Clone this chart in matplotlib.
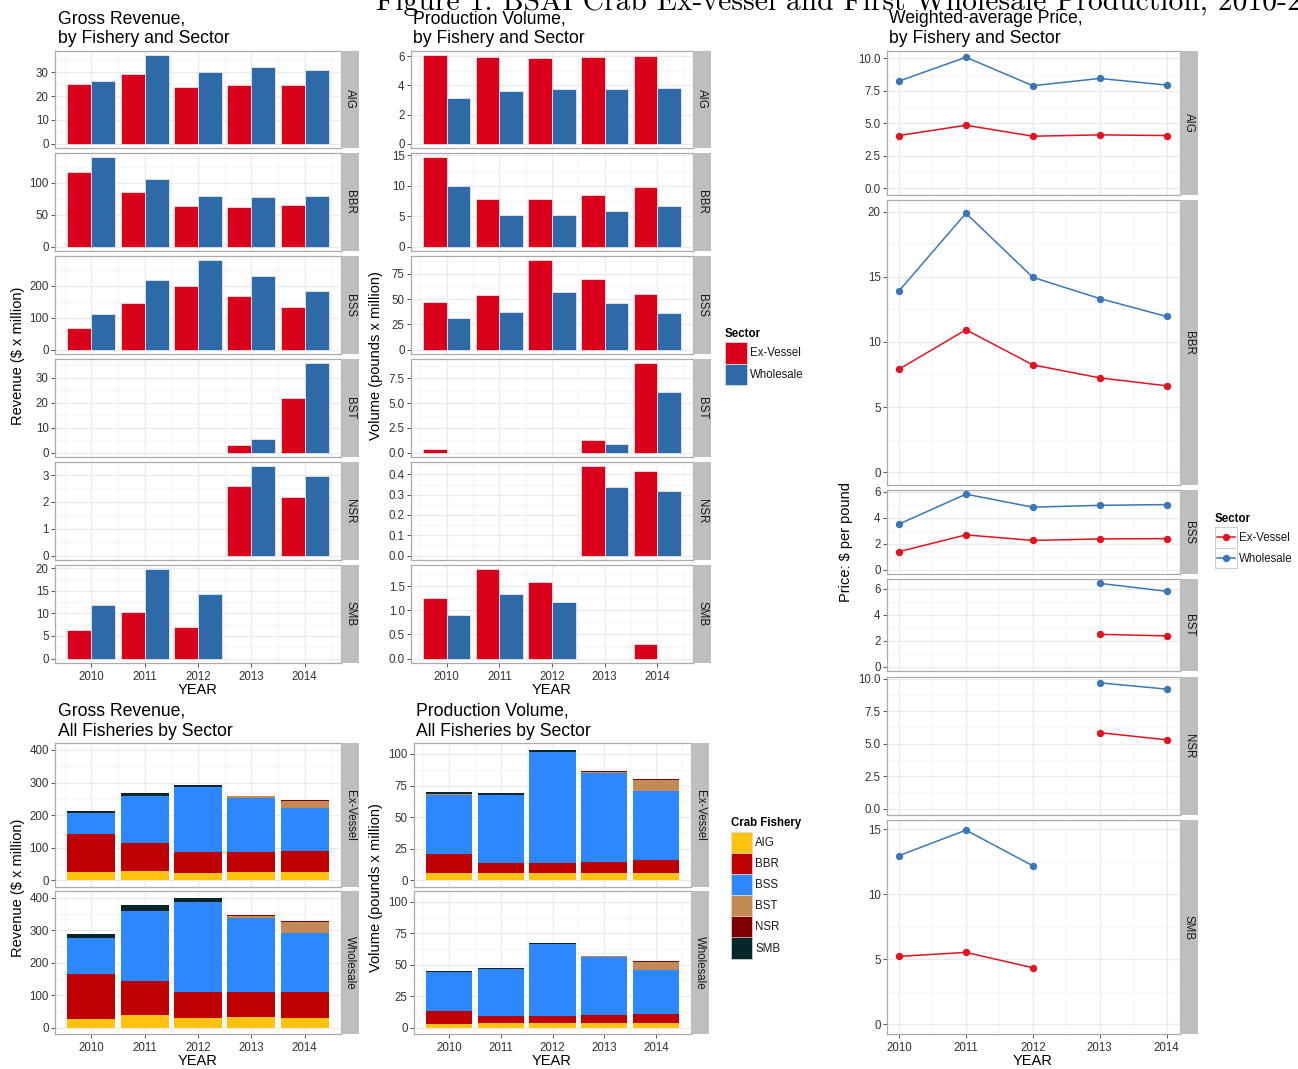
import numpy as np
import matplotlib
matplotlib.use("Agg")
import matplotlib.pyplot as plt
from matplotlib.patches import Rectangle
from matplotlib.lines import Line2D

nan = np.nan

years = [2010, 2011, 2012, 2013, 2014]
fisheries = ['AIG', 'BBR', 'BSS', 'BST', 'NSR', 'SMB']
sectors = ['Ex-Vessel', 'Wholesale']

# gross revenue, $ million (one row per fishery)
revenue_exvessel = [
    [25.0, 29.2, 24.0, 24.7, 24.7],
    [116.7, 85.4, 64.1, 62.5, 65.6],
    [66.0, 144.3, 198.0, 167.0, 132.0],
    [nan, nan, nan, 3.2, 21.7],
    [nan, nan, nan, 2.60, 2.18],
    [6.4, 10.2, 6.9, nan, nan],
]
revenue_wholesale = [
    [26.2, 37.2, 30.0, 32.1, 30.8],
    [139.6, 105.2, 78.6, 77.1, 79.2],
    [110.3, 216.5, 278.4, 228.9, 181.4],
    [nan, nan, nan, 5.5, 35.7],
    [nan, nan, nan, 3.32, 2.95],
    [11.8, 19.7, 14.2, nan, nan],
]

# production volume, million pounds
volume_exvessel = [
    [6.09, 5.98, 5.89, 5.93, 6.05],
    [14.67, 7.83, 7.83, 8.48, 9.80],
    [47.2, 53.8, 88.2, 70.2, 54.8],
    [0.37, nan, nan, 1.22, 9.02],
    [nan, nan, nan, 0.439, 0.418],
    [1.25, 1.85, 1.59, nan, 0.30],
]
volume_wholesale = [
    [3.16, 3.61, 3.73, 3.77, 3.84],
    [10.0, 5.25, 5.25, 5.80, 6.62],
    [31.1, 37.4, 57.4, 46.2, 35.7],
    [nan, nan, nan, 0.84, 6.15],
    [nan, nan, nan, 0.338, 0.318],
    [0.91, 1.33, 1.17, nan, nan],
]

# weighted-average price, $ per pound
price_exvessel = [
    [4.06, 4.85, 4.01, 4.11, 4.06],
    [7.91, 10.94, 8.24, 7.24, 6.63],
    [1.41, 2.70, 2.27, 2.39, 2.41],
    [nan, nan, nan, 2.51, 2.39],
    [nan, nan, nan, 5.85, 5.30],
    [5.22, 5.53, 4.35, nan, nan],
]
price_wholesale = [
    [8.25, 10.08, 7.89, 8.45, 7.94],
    [13.93, 19.90, 14.97, 13.34, 11.96],
    [3.53, 5.83, 4.83, 4.97, 5.03],
    [nan, nan, nan, 6.43, 5.82],
    [nan, nan, nan, 9.68, 9.20],
    [12.97, 14.93, 12.19, nan, nan],
]

rev_ticks = [[0, 10, 20, 30], [0, 50, 100], [0, 100, 200], [0, 10, 20, 30], [0, 1, 2, 3], [0, 5, 10, 15, 20]]
vol_ticks = [[0, 2, 4, 6], [0, 5, 10, 15], [0, 25, 50, 75], [0, 2.5, 5, 7.5], [0, .1, .2, .3, .4], [0, .5, 1, 1.5]]
price_ticks = [[0, 2.5, 5, 7.5, 10], [0, 5, 10, 15, 20], [0, 2, 4, 6], [0, 2, 4, 6], [0, 2.5, 5, 7.5, 10], [0, 5, 10, 15]]
rev_total_ticks = [0, 100, 200, 300, 400]
vol_total_ticks = [0, 25, 50, 75, 100]

sector_colors = ['#DA001B', '#2E6AA8']
line_colors = ['#E3121F', '#3A77B5']
fishery_colors = ['#FFC20E', '#BF0000', '#2D87FF', '#C38A55', '#7F0000', '#06272A']

W, H = 1298, 1069
plt.rcParams['font.family'] = 'Liberation Sans'

fig = plt.figure(figsize=(W / 100, H / 100), dpi=100)


def box(x0, y0, x1, y1):
    return [x0 / W, 1 - y1 / H, (x1 - x0) / W, (y1 - y0) / H]


def fig_text(x, y, s, **kw):
    fig.text(x / W, 1 - y / H, s, **kw)


def style(ax, ticks, ylim, xlim, xmajor, show_x):
    fmt = '{:.1f}' if any(t % 1 for t in ticks) else '{:g}'
    ax.set_yticks(ticks)
    ax.set_yticklabels([fmt.format(t) for t in ticks])
    step = ticks[1] - ticks[0]
    minor = [v for v in np.arange(ticks[0] - step / 2, ylim[1], step) if ylim[0] < v < ylim[1]]
    ax.set_yticks(minor, minor=True)
    ax.set_xticks(xmajor)
    xminor = [x + 0.5 for x in [xmajor[0] - 1] + list(xmajor)]
    ax.set_xticks([x for x in xminor if xlim[0] < x < xlim[1]], minor=True)
    ax.set_xlim(xlim)
    ax.set_ylim(ylim)
    ax.grid(True, which='major', color='#EBEBEB', lw=0.9, zorder=0)
    ax.grid(True, which='minor', color='#F6F6F6', lw=0.8, zorder=0)
    ax.set_axisbelow(True)
    for sp in ax.spines.values():
        sp.set_color('#ABABAB')
        sp.set_linewidth(0.9)
    ax.tick_params(which='minor', length=0)
    ax.tick_params(which='major', length=3, width=0.7, color='#555555',
                   labelsize=8.3, labelcolor='#333333', pad=1.5)
    ax.tick_params(axis='x', pad=3)
    if not show_x:
        ax.tick_params(axis='x', length=0, labelbottom=False)


def strip(x0, y0, x1, y1, label):
    s = fig.add_axes(box(x0, y0, x1, y1))
    s.set_facecolor('#BEBEBE')
    s.set_xticks([])
    s.set_yticks([])
    for sp in s.spines.values():
        sp.set_visible(False)
    s.text(0.5, 0.5, label, rotation=-90, ha='center', va='center',
           fontsize=8.3, color='#1A1A1A', transform=s.transAxes)


def dodge_panels(x0, x1, rows, ex, wh, tick_sets):
    for i, (y0, y1) in enumerate(rows):
        ax = fig.add_axes(box(x0, y0, x1, y1))
        a = np.array(ex[i], dtype=float)
        b = np.array(wh[i], dtype=float)
        top = np.nanmax(np.concatenate([a, b]))
        yrs = np.array(years)
        ax.bar(yrs - 0.225, a, width=0.45, color=sector_colors[0], edgecolor='#F2F2F2', lw=0.5, zorder=2)
        ax.bar(yrs + 0.225, b, width=0.45, color=sector_colors[1], edgecolor='#F2F2F2', lw=0.5, zorder=2)
        style(ax, tick_sets[i], (-0.05 * top, 1.05 * top), (2009.32, 2014.68), years, i == len(rows) - 1)
        strip(x1, y0, x1 + 18, y1, fisheries[i])


def stacked_panels(x0, x1, rows, data_by_sector, ticks):
    tots = [np.nansum(np.array(d, dtype=float), axis=0) for d in data_by_sector]
    top = max(t.max() for t in tots)
    for k, (y0, y1) in enumerate(rows):
        ax = fig.add_axes(box(x0, y0, x1, y1))
        bottom = np.zeros(len(years))
        for i, f in enumerate(fisheries):
            v = np.nan_to_num(np.array(data_by_sector[k][i], dtype=float))
            ax.bar(years, v, width=0.9, bottom=bottom, color=fishery_colors[i], lw=0, zorder=2)
            bottom += v
        style(ax, ticks, (-0.05 * top, 1.05 * top), (2009.32, 2014.68), years, k == len(rows) - 1)
        strip(x1, y0, x1 + 18, y1, sectors[k])


# ---- Gross revenue by fishery ----
rows = [(50.7, 148), (153, 251), (256, 354), (359, 457), (462, 560), (565, 663)]
dodge_panels(55, 341, rows, revenue_exvessel, revenue_wholesale, rev_ticks)
# ---- Production volume by fishery ----
dodge_panels(411, 693, rows, volume_exvessel, volume_wholesale, vol_ticks)

# ---- Price panels, heights proportional to y range ----
tops = [np.nanmax(np.concatenate([price_exvessel[i], price_wholesale[i]])) * 1.1 for i in range(6)]
gap = 5.4
avail = (1034 - 50.7) - gap * 5
y = 50.7
for i, f in enumerate(fisheries):
    h = avail * tops[i] / sum(tops)
    ax = fig.add_axes(box(887, y, 1180, y + h))
    for s in range(2):
        vals = price_exvessel[i] if s == 0 else price_wholesale[i]
        ax.plot(years, vals, color=line_colors[s], lw=1.1, marker='o', ms=4.3, zorder=3)
    m = tops[i] / 1.1
    style(ax, price_ticks[i], (-0.05 * m, 1.05 * m), (2009.82, 2014.2), years, i == 5)
    strip(1180, y, 1198, y + h, f)
    y += h + gap

# ---- Stacked totals ----
rows2 = [(743, 887), (891, 1034)]
stacked_panels(55, 341, rows2, [revenue_exvessel, revenue_wholesale], rev_total_ticks)
stacked_panels(414, 691, rows2, [volume_exvessel, volume_wholesale], vol_total_ticks)

# ---- titles and axis labels ----
fig_text(376, 10, 'Figure 1: BSAI Crab Ex-vessel and First Wholesale Production, 2010-2014',
         fontsize=21.3, family='cmr10', va='baseline', ha='left')
tkw = dict(fontsize=12.7, va='top', ha='left', linespacing=1.2, color='black')
fig_text(58, 10, 'Gross Revenue,\nby Fishery and Sector', **tkw)
fig_text(413, 10, 'Production Volume,\nby Fishery and Sector', **tkw)
fig_text(889, 10, 'Weighted-average Price,\nby Fishery and Sector', **tkw)
fig_text(58, 703, 'Gross Revenue,\nAll Fisheries by Sector', **tkw)
fig_text(416, 703, 'Production Volume,\nAll Fisheries by Sector', **tkw)

lkw = dict(fontsize=10.5, ha='center', va='center')
fig_text(198, 690, 'YEAR', **lkw)
fig_text(552, 690, 'YEAR', **lkw)
fig_text(1033, 1061, 'YEAR', **lkw)
fig_text(198, 1061, 'YEAR', **lkw)
fig_text(552, 1061, 'YEAR', **lkw)
fig_text(18, 356, 'Revenue ($ x million)', rotation=90, **lkw)
fig_text(376, 356, 'Volume (pounds x million)', rotation=90, **lkw)
fig_text(846, 542, 'Price: $ per pound', rotation=90, **lkw)
fig_text(18, 888, 'Revenue ($ x million)', rotation=90, **lkw)
fig_text(376, 888, 'Volume (pounds x million)', rotation=90, **lkw)


# ---- legends ----
def rect(x0, y0, x1, y1, fc, ec='none', lw=0):
    fig.add_artist(Rectangle((x0 / W, 1 - y1 / H), (x1 - x0) / W, (y1 - y0) / H,
                             transform=fig.transFigure, facecolor=fc, edgecolor=ec, lw=lw))


fig_text(725, 334, 'Sector', fontsize=8.3, fontweight='bold', va='center')
for s in range(2):
    y0 = 342 + 21.5 * s
    rect(725, y0, 747, y0 + 21.5, sector_colors[s], '#E6E6E6', 0.5)
    fig_text(750, y0 + 11, sectors[s], fontsize=8.3, va='center', color='#1A1A1A')

fig_text(1215, 519, 'Sector', fontsize=8.3, fontweight='bold', va='center')
for s in range(2):
    y0 = 527 + 20.5 * s
    rect(1215, y0, 1237, y0 + 20.5, 'white', '#CFCFCF', 0.8)
    yc = 1 - (y0 + 10.25) / H
    fig.add_artist(Line2D([1217 / W, 1235 / W], [yc, yc], color=line_colors[s], lw=1.1,
                          transform=fig.transFigure))
    fig.add_artist(Line2D([1226 / W], [yc], color=line_colors[s], marker='o', ms=4.3,
                          transform=fig.transFigure))
    fig_text(1239, y0 + 11, sectors[s], fontsize=8.3, va='center', color='#1A1A1A')

fig_text(731, 823, 'Crab Fishery', fontsize=8.3, fontweight='bold', va='center')
for i, f in enumerate(fisheries):
    y0 = 832 + 21.1 * i
    rect(731, y0, 752, y0 + 21.1, fishery_colors[i], '#D9D9D9', 0.5)
    fig_text(755, y0 + 11, f, fontsize=8.3, va='center', color='#1A1A1A')

fig.savefig('out.png', dpi=100)
